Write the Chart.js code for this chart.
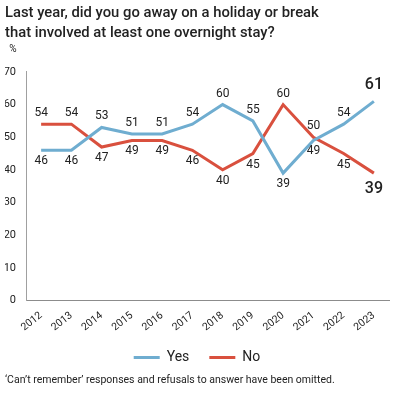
<!DOCTYPE html>
<html>
<head>
<meta charset="utf-8">
<script src="https://cdn.jsdelivr.net/npm/chart.js@4/dist/chart.umd.min.js"></script>
<style>
  html, body { margin: 0; padding: 0; background: #fff; }
  #wrap { width: 397px; height: 397px; position: relative; }
</style>
</head>
<body>
<div id="wrap"><canvas id="chart"></canvas></div>
<script>
'use strict';

// ── Data ─────────────────────────────────────────────────────────
const years = ['2012', '2013', '2014', '2015', '2016', '2017', '2018', '2019', '2020', '2021', '2022', '2023'];
const yesValues = [46, 46, 53, 51, 51, 54, 60, 55, 39, 49, 54, 61];
const noValues  = [54, 54, 47, 49, 49, 46, 40, 45, 60, 50, 45, 39];
const yMin = 0;
const yMax = 70;
const yStep = 10;

const titleLines = [
  'Last year, did you go away on a holiday or break',
  'that involved at least one overnight stay?',
];
const footnote = '\u2018Can\u2019t remember\u2019 responses and refusals to answer have been omitted.';

const BLUE = '#6fadd0';
const RED  = '#d9503e';
const TEXT = '#222';
const FONT = 'Roboto';

// ── Value labels (higher series above its point, lower one below) ──
const pointLabels = {
  id: 'pointLabels',
  afterDatasetsDraw(chart) {
    const { ctx, chartArea } = chart;
    const sets = chart.data.datasets;
    ctx.save();
    ctx.textAlign = 'center';
    ctx.textBaseline = 'middle';
    ctx.fillStyle = TEXT;
    sets.forEach((ds, di) => {
      const other = sets[1 - di].data;
      chart.getDatasetMeta(di).data.forEach((pt, i) => {
        const v = ds.data[i];
        const last = i === ds.data.length - 1;
        const above = v >= other[i];
        const off = last ? 16 : 11;
        ctx.font = last ? `500 16px ${FONT}` : `12px ${FONT}`;
        ctx.fillText(String(v), pt.x, pt.y + (above ? -off : off));
      });
    });
    ctx.font = `10px ${FONT}`;
    ctx.fillText('%', chartArea.left - 13, chartArea.top - 22);
    ctx.restore();
  },
};

// ── Chart ────────────────────────────────────────────────────────
Chart.defaults.font.family = FONT;
Chart.defaults.color = TEXT;

new Chart(document.getElementById('chart'), {
  type: 'line',
  data: {
    labels: years,
    datasets: [
      {
        label: 'Yes',
        data: yesValues,
        borderColor: BLUE,
        backgroundColor: BLUE,
        borderWidth: 3,
        pointRadius: 0,
        tension: 0,
        fill: false,
      },
      {
        label: 'No',
        data: noValues,
        borderColor: RED,
        backgroundColor: RED,
        borderWidth: 3,
        pointRadius: 0,
        tension: 0,
        fill: false,
      },
    ],
  },
  options: {
    responsive: true,
    maintainAspectRatio: false,
    animation: false,
    layout: { padding: { left: 5, right: 8, top: 0, bottom: 0 } },
    plugins: {
      title: {
        display: true,
        text: titleLines,
        align: 'start',
        color: TEXT,
        font: { size: 14.8, weight: '500', lineHeight: 1.35 },
        padding: { top: 3, bottom: 29 },
      },
      subtitle: {
        display: true,
        text: footnote,
        position: 'bottom',
        align: 'start',
        color: TEXT,
        font: { size: 10.5, lineHeight: 1.2 },
        padding: { top: 0, bottom: 10 },
      },
      legend: {
        position: 'bottom',
        labels: {
          boxWidth: 26,
          boxHeight: 3,
          padding: 20,
          color: TEXT,
          font: { size: 14 },
          generateLabels(chart) {
            return Chart.defaults.plugins.legend.labels.generateLabels(chart)
              .map((l) => ({ ...l, fillStyle: l.strokeStyle, lineWidth: 0 }));
          },
        },
      },
      tooltip: { enabled: false },
    },
    scales: {
      x: {
        offset: true,
        grid: { display: true, drawOnChartArea: false, drawTicks: false },
        border: { display: true, color: '#8c8c8c', width: 1 },
        ticks: {
          minRotation: 38,
          maxRotation: 38,
          padding: 9,
          color: TEXT,
          font: { size: 10.5 },
        },
        afterFit: (scale) => { scale.height = 30; },
      },
      y: {
        min: yMin,
        max: yMax,
        grid: { display: true, drawOnChartArea: false, drawTicks: false },
        border: { display: true, color: '#a0a0a0', width: 1 },
        ticks: {
          stepSize: yStep,
          padding: 10,
          color: TEXT,
          font: { size: 11 },
        },
        afterFit: (scale) => { scale.width = 21; },
      },
    },
  },
  plugins: [pointLabels],
});
</script>
</body>
</html>
